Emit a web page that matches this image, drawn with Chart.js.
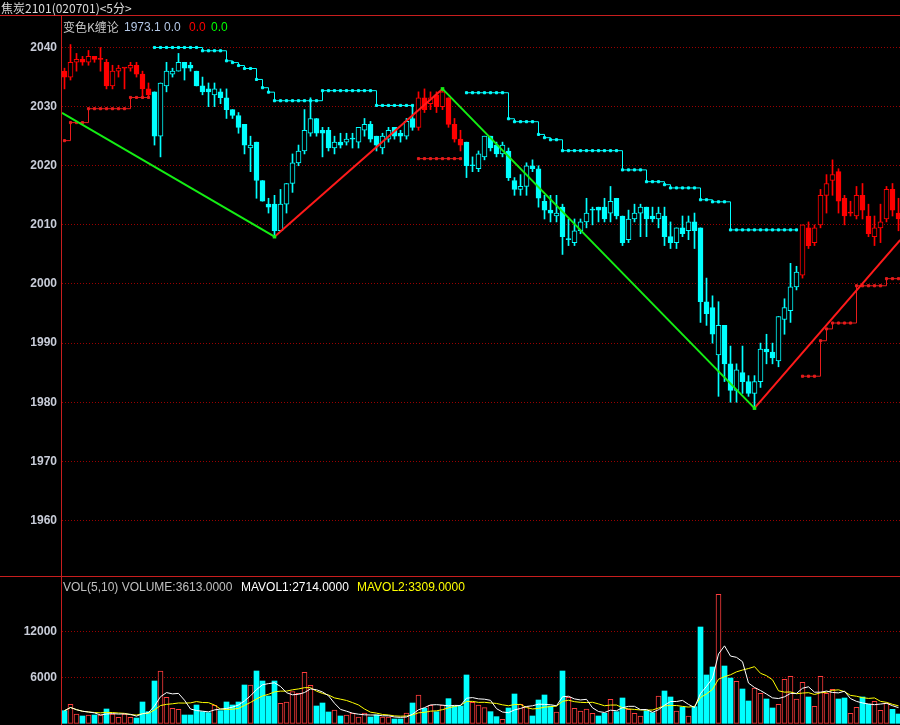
<!DOCTYPE html>
<html>
<head>
<meta charset="utf-8">
<title>焦炭2101 5分</title>
<script src="https://cdn.jsdelivr.net/npm/chart.js@4.4.1/dist/chart.umd.min.js"></script>
<style>
html, body { margin: 0; padding: 0; background: #000; }
#wrap { position: relative; width: 900px; height: 725px; overflow: hidden; background: #000;
        font-family: "Liberation Sans", Arial, sans-serif; font-size: 12px; }
.t { position: absolute; white-space: nowrap; line-height: 14px; }
.cjk { font-family: "Noto Sans CJK SC", sans-serif; }
.hl { position: absolute; left: 0; width: 900px; height: 1px; background: #c81e1e; }
#vl { position: absolute; left: 61px; top: 15px; width: 1px; height: 710px; background: #c81e1e; }
canvas { position: absolute; left: 0; }
</style>
</head>
<body>
<div id="wrap">
  <canvas id="price" width="900" height="560" style="top:16px;width:900px;height:560px"></canvas>
  <canvas id="vol" width="900" height="148" style="top:577px;width:900px;height:148px"></canvas>
  <div class="hl" style="top:15px"></div>
  <div class="hl" style="top:576px"></div>
  <div id="vl"></div>

  <div class="t cjk" style="left:1px;top:0;line-height:15px;color:#dcdcdc">焦炭2101(020701)&lt;5分&gt;</div>

  <div class="t cjk" style="left:63px;top:20px;color:#c8c8c8">变色K缠论</div>
  <div class="t" style="left:124px;top:20px;color:#b4c8e6">1973.1 0.0</div>
  <div class="t" style="left:189px;top:20px;color:#ff0000">0.0</div>
  <div class="t" style="left:211px;top:20px;color:#00ff00">0.0</div>

  <div class="t" style="left:63px;top:580px;color:#c0c0c0">VOL(5,10) VOLUME:3613.0000</div>
  <div class="t" style="left:241px;top:580px;color:#ffffff">MAVOL1:2714.0000</div>
  <div class="t" style="left:357px;top:580px;color:#ffff00">MAVOL2:3309.0000</div>
</div>

<script>
// 5 minute bars, oldest first
var opens = [
  2036, 2035, 2037.5, 2038, 2037.5, 2038.5, 2038, 2037.5, 2033.5, 2036,
  2036.5, 2036.5, 2037, 2035.5, 2033, 2032.5, 2025, 2033.5, 2035.5, 2036,
  2037.5, 2037, 2036, 2033.5, 2033, 2032, 2032.5, 2031.5, 2029.5, 2028.5,
  2027, 2023, 2024, 2017.5, 2013.5, 2013.5, 2009, 2013.5, 2017, 2020.5,
  2022.5, 2025.5, 2028, 2026, 2026, 2023, 2024, 2024, 2024.5, 2024,
  2026, 2027, 2025, 2023, 2024.5, 2026.5, 2025.5, 2025, 2028, 2026.5,
  2031.5, 2030.5, 2032, 2030, 2031.5, 2027, 2024.5, 2024, 2020, 2019.5,
  2021.5, 2025, 2023.5, 2022, 2022.5, 2017.5, 2016, 2016.5, 2020, 2019.5,
  2014, 2012.5, 2011.5, 2013, 2007.5, 2007, 2009, 2010.5, 2012.5, 2013,
  2013, 2012, 2014.5, 2011.5, 2007.5, 2011, 2012, 2013, 2011.5, 2011,
  2011.5, 2008, 2007, 2009.5, 2009, 2010.5, 2009.5, 1997, 1996, 1988,
  1993, 1986.5, 1982, 1985, 1983.5, 1981.5, 1983.5, 1989, 1988.5, 1987,
  1994, 1995.5, 1999.5, 2001.5, 2009.5, 2007, 2010, 2015, 2017.5, 2019,
  2014.5, 2012, 2011.5, 2015, 2011.5, 2008, 2009.5, 2011, 2016, 2012
];
var highs = [
  2036.5, 2040.5, 2039, 2038.5, 2039.5, 2038.5, 2040, 2038, 2037, 2037,
  2036.5, 2037.5, 2037.5, 2036, 2034, 2032.5, 2034, 2037.5, 2036.5, 2039,
  2037.5, 2037.5, 2036, 2035, 2034, 2034, 2033, 2033, 2029.5, 2029,
  2027, 2025, 2024, 2017.5, 2014.5, 2015, 2016, 2017, 2022, 2023.5,
  2029.5, 2031.5, 2028, 2026.5, 2026.5, 2025, 2025.5, 2025.5, 2025.5, 2026.5,
  2028, 2027.5, 2025, 2025.5, 2026.5, 2026.5, 2026, 2028, 2030, 2032.5,
  2033, 2032.5, 2032.5, 2033, 2031.5, 2028, 2026, 2024, 2021.5, 2022.5,
  2025, 2025, 2024, 2024, 2023, 2018, 2018.5, 2020.5, 2021, 2020,
  2015, 2015, 2015, 2013.5, 2011, 2011, 2011, 2014.5, 2013, 2013,
  2014.5, 2016.5, 2014.5, 2011.5, 2012.5, 2013.5, 2013.5, 2013, 2013, 2013,
  2013, 2010.5, 2009.5, 2011.5, 2011.5, 2012, 2009.5, 2001, 1998, 1997,
  1993, 1989.5, 1986.5, 1989.5, 1984.5, 1984.5, 1990, 1991.5, 1990, 1994.5,
  1997.5, 2003.5, 2003, 2010, 2010.5, 2010, 2016, 2018.5, 2021, 2019.5,
  2015, 2014, 2016.5, 2017, 2013.5, 2011.5, 2013.5, 2016.5, 2017, 2014.5
];
var lows = [
  2033, 2034.5, 2036, 2037, 2037, 2037.5, 2036, 2033, 2033, 2035,
  2033, 2036, 2035, 2031.5, 2031.5, 2023.5, 2021.5, 2032.5, 2035, 2036,
  2034.5, 2036, 2033.5, 2032, 2030, 2030, 2030.5, 2028, 2028, 2025.5,
  2022, 2019, 2014.5, 2014, 2012, 2008, 2009, 2012, 2015.5, 2020,
  2022, 2025, 2025, 2021.5, 2022.5, 2022, 2023, 2023.5, 2023, 2023,
  2025, 2024, 2022.5, 2022, 2024, 2024.5, 2024, 2024.5, 2026, 2026,
  2029, 2029.5, 2029, 2029.5, 2026.5, 2024, 2022.5, 2018, 2019, 2019,
  2021, 2022.5, 2021.5, 2021.5, 2017.5, 2015, 2015, 2015, 2019, 2013,
  2011, 2010.5, 2010.5, 2005, 2006.5, 2006.5, 2008.5, 2009.5, 2010, 2010.5,
  2010.5, 2010.5, 2011, 2006.5, 2007, 2010.5, 2008, 2008, 2010.5, 2009.5,
  2006.5, 2006, 2006, 2008, 2007.5, 2006, 1993.5, 1993, 1990, 1981,
  1983.5, 1980, 1980, 1981.5, 1981, 1979, 1982.5, 1986.5, 1986.5, 1986,
  1991.5, 1993.5, 1999, 2001, 2006, 2006.5, 2009.5, 2012, 2015, 2012,
  2010, 2011.5, 2011, 2011, 2008, 2006.5, 2007, 2010.5, 2011.5, 2009
];
var closes = [
  2035, 2037.5, 2038, 2037.5, 2038.5, 2038, 2038, 2033.5, 2036, 2036.5,
  2036.5, 2037, 2035.5, 2033, 2032, 2025, 2034, 2036, 2036, 2037.5,
  2036.5, 2036.5, 2033.5, 2032.5, 2032.5, 2033, 2031.5, 2029.5, 2028.5, 2026.5,
  2023.5, 2023.5, 2017.5, 2014, 2013, 2009, 2013.5, 2017, 2020.5, 2022.5,
  2026, 2028, 2025.5, 2025.5, 2023, 2024, 2023.5, 2024.5, 2024.5, 2026.5,
  2027, 2024.5, 2023.5, 2025, 2026, 2025, 2025, 2027.5, 2026.5, 2031.5,
  2029.5, 2031.5, 2030, 2032.5, 2027, 2024.5, 2023.5, 2020, 2020, 2022,
  2025, 2023, 2022, 2023.5, 2018, 2016, 2016.5, 2020, 2019.5, 2014.5,
  2012.5, 2012, 2012, 2008, 2007.5, 2009, 2010.5, 2012, 2012.5, 2012.5,
  2011, 2014, 2011.5, 2007, 2011, 2012, 2013, 2011, 2011, 2012,
  2008, 2007, 2009.5, 2008.5, 2010.5, 2009, 1997, 1995, 1991.5, 1993,
  1986.5, 1982, 1985.5, 1983.5, 1981.5, 1983.5, 1989, 1988.5, 1987.5, 1994.5,
  1996, 1999.5, 2002, 2010, 2006.5, 2009.5, 2015, 2017, 2018.5, 2014,
  2011.5, 2012, 2015, 2012.5, 2008.5, 2009.5, 2010.5, 2016, 2012.5, 2011
];
var volumes = [
  1652, 2478, 1217, 957, 1087, 1087, 1087, 1870, 1217, 783,
  1217, 783, 696, 2783, 1522, 5522, 6826, 3391, 1956, 1826,
  1087, 1087, 2391, 1522, 1391, 2348, 1652, 2783, 2391, 2783,
  5000, 5000, 6826, 5522, 3565, 5522, 2609, 2783, 4130, 3913,
  6652, 4957, 2261, 2652, 1478, 1739, 957, 1087, 1348, 826,
  1348, 826, 1087, 826, 826, 565, 565, 1348, 2652, 3696,
  1957, 2348, 1522, 2348, 3217, 2261, 2261, 6305, 2739, 2391,
  2043, 1522, 870, 522, 2000, 3826, 2478, 2174, 957, 3043,
  3696, 2261, 1478, 6826, 3391, 1956, 1609, 1870, 1304, 957,
  1304, 3130, 1522, 3304, 1826, 1304, 957, 1652, 1391, 3565,
  4217, 3435, 1609, 2130, 957, 2174, 12565, 6305, 7348, 16826,
  7478, 5913, 5478, 4478, 2913, 4609, 3913, 3174, 2000, 2478,
  5739, 6130, 3174, 5348, 3435, 2217, 6130, 3913, 4435, 3174,
  3304, 1304, 2087, 3435, 2478, 2870, 1696, 2609, 1826, 1217
];
// trend state of the 变色K indicator: 1 = up (red), -1 = down (cyan)
var trend = [
  1, 1, 1, 1, 1, 1, 1, 1, 1, 1, 1, 1, 1, 1, 1,
  -1, -1, -1, -1, -1, -1, -1, -1, -1, -1, -1, -1, -1, -1, -1, -1, -1, -1, -1, -1, -1, -1,
  -1, -1, -1, -1, -1, -1, -1, -1, -1, -1, -1, -1, -1, -1, -1, -1, -1, -1, -1, -1, -1, -1,
  1, 1, 1, 1, 1, 1, 1, 1,
  -1, -1, -1, -1, -1, -1, -1, -1, -1, -1, -1, -1, -1, -1, -1, -1, -1, -1, -1, -1, -1, -1, -1, -1, -1, -1, -1, -1,
  -1, -1, -1, -1, -1, -1, -1, -1, -1, -1, -1, -1, -1, -1, -1, -1, -1, -1, -1, -1, -1, -1, -1, -1, -1, -1, -1, -1,
  1, 1, 1, 1, 1, 1, 1, 1, 1, 1, 1, 1, 1, 1, 1, 1, 1
];
// resistance (cyan) and support (red) step lines
var upperLine = [
  null, null, null, null, null, null, null, null, null, null, null, null, null, null, null,
  2040, 2040, 2040, 2040, 2040, 2040, 2040, 2040,
  2039.45, 2039.45, 2039.45, 2039.45,
  2037.75, 2037.45, 2036.95, 2036.45, 2036.45, 2034.6, 2033.2, 2032.45,
  2031, 2031, 2031, 2031, 2031, 2031, 2031, 2031,
  2032.7, 2032.7, 2032.7, 2032.7, 2032.7, 2032.7, 2032.7, 2032.7, 2032.7,
  2030.2, 2030.2, 2030.2, 2030.2, 2030.2, 2030.2, 2030.2,
  null, null, null, null, null, null, null, null,
  2032.35, 2032.35, 2032.35, 2032.35, 2032.35, 2032.35, 2032.35,
  2027.95, 2027.45, 2027.45, 2027.45, 2027.45,
  2025.3, 2024.75, 2024.4, 2024.4,
  2022.55, 2022.55, 2022.55, 2022.55, 2022.55, 2022.55, 2022.55, 2022.55, 2022.55, 2022.55,
  2019.3, 2019.3, 2019.3, 2019.3,
  2017.3, 2017.3, 2017.3, 2016.8,
  2016.25, 2016.25, 2016.25, 2016.25, 2016.25,
  2014.25, 2014.25, 2013.9, 2013.9, 2013.9,
  2009.15, 2009.15, 2009.15, 2009.15, 2009.15, 2009.15, 2009.15, 2009.15, 2009.15, 2009.15, 2009.15, 2009.15,
  null, null, null, null, null, null, null, null, null, null, null, null, null, null, null, null, null
];
var lowerLine = [
  2024.25, 2027.3, 2027.3, 2027.3,
  2029.65, 2029.65, 2029.65, 2029.65, 2029.65, 2029.65, 2029.65,
  2031.55, 2031.55, 2031.55, 2031.55,
  null, null, null, null, null, null, null, null, null, null, null, null, null, null, null, null, null, null, null, null, null, null,
  null, null, null, null, null, null, null, null, null, null, null, null, null, null, null, null, null, null, null, null, null, null,
  2021.2, 2021.2, 2021.2, 2021.2, 2021.2, 2021.2, 2021.2, 2021.2,
  null, null, null, null, null, null, null, null, null, null, null, null, null, null, null, null, null, null, null, null, null, null, null, null, null, null, null, null,
  null, null, null, null, null, null, null, null, null, null, null, null, null, null, null, null, null, null, null, null, null, null, null, null, null, null, null, null,
  1984.4, 1984.4, 1984.4, 1990.4, 1992.4,
  1993.4, 1993.4, 1993.4, 1993.4,
  1999.7, 1999.7, 1999.7, 1999.7, 1999.7,
  2000.9, 2000.9, 2000.9
];
// zigzag (缠论 strokes): bar index and price of each turning point
var zzIndex = [-0.42, 35, 63, 115, 139.3];
var zzPrice = [2028.95, 2008, 2033, 1979, 2007.45];

var priceTicks = [1960, 1970, 1980, 1990, 2000, 2010, 2020, 2030, 2040];
var volTicks = [6000, 12000];

var RED = '#ff0000', CYAN = '#00ffff', GRID = '#9a0000';
var ZZ_RED = '#ff1a1a', ZZ_GREEN = '#14ee14';

function movingAvg(arr, n) {
  return arr.map(function (_, i) {
    var s = Math.max(0, i - n + 1), sum = 0;
    for (var k = s; k <= i; k++) sum += arr[k];
    return sum / (i - s + 1);
  });
}

var xScale = { type: 'linear', min: -0.4167, max: 139.25, display: false, offset: false };
var labelFont = { family: 'Liberation Sans', size: 12, weight: 'bold' };

function yAxis(min, max, ticks) {
  return {
    position: 'left', min: min, max: max,
    afterFit: function (s) { s.width = 62; s.paddingTop = 0; s.paddingBottom = 0; },
    afterBuildTicks: function (s) { s.ticks = ticks.map(function (v) { return { value: v }; }); },
    ticks: { color: '#c8ccd8', font: labelFont, padding: 5, callback: function (v) { return String(v); } },
    grid: { color: GRID, lineWidth: 1, drawTicks: false },
    border: { display: false, dash: [1, 2] }
  };
}

var idx = opens.map(function (_, i) { return i; });
var candleColor = trend.map(function (t) { return t > 0 ? RED : CYAN; });
var bodyFill = idx.map(function (i) { return closes[i] > opens[i] ? '#000000' : candleColor[i]; });

new Chart(document.getElementById('price'), {
  type: 'bar',
  data: {
    datasets: [
      {
        type: 'line', order: 0,
        data: zzIndex.map(function (x, k) { return { x: x, y: zzPrice[k] }; }),
        borderWidth: 2, borderColor: ZZ_GREEN, tension: 0,
        segment: { borderColor: function (c) { return c.p1.parsed.y > c.p0.parsed.y ? ZZ_RED : ZZ_GREEN; } },
        pointStyle: 'rect', pointRadius: [0, 2.5, 2.5, 2.5, 0],
        pointBackgroundColor: ZZ_GREEN, pointBorderWidth: 0
      },
      {
        type: 'line', order: 1, stepped: 'before', spanGaps: false,
        data: idx.map(function (i) { return { x: i, y: upperLine[i] }; }),
        borderColor: CYAN, borderWidth: 1,
        pointStyle: 'rect', pointRadius: 1.5, pointBackgroundColor: CYAN,
        pointBorderColor: CYAN, pointBorderWidth: 1
      },
      {
        type: 'line', order: 1, stepped: 'before', spanGaps: false,
        data: idx.map(function (i) { return { x: i, y: lowerLine[i] }; }),
        borderColor: '#e81c1c', borderWidth: 1,
        pointStyle: 'rect', pointRadius: 1.5, pointBackgroundColor: '#e81c1c',
        pointBorderColor: '#e81c1c', pointBorderWidth: 1
      },
      {
        type: 'bar', order: 2, grouped: false, barThickness: 5, minBarLength: 1,
        data: idx.map(function (i) { return { x: i, y: [opens[i], closes[i]] }; }),
        backgroundColor: bodyFill, borderColor: candleColor, borderWidth: 1, borderSkipped: false
      },
      {
        type: 'bar', order: 3, grouped: false, barThickness: 1,
        data: idx.map(function (i) { return { x: i, y: [lows[i], highs[i]] }; }),
        backgroundColor: candleColor, borderWidth: 0
      }
    ]
  },
  options: {
    responsive: false, animation: false, events: [],
    layout: { padding: 0, autoPadding: false },
    plugins: { legend: { display: false }, tooltip: { enabled: false } },
    scales: { x: xScale, y: yAxis(1950.61, 2045.33, priceTicks) }
  }
});

var ma5 = movingAvg(volumes, 5);
var ma10 = movingAvg(volumes, 10);
var volUp = idx.map(function (i) { return closes[i] >= opens[i]; });

new Chart(document.getElementById('vol'), {
  type: 'bar',
  data: {
    datasets: [
      {
        type: 'line', order: 0, data: idx.map(function (i) { return { x: i, y: ma5[i] }; }),
        borderColor: '#ffffff', borderWidth: 1, pointRadius: 0, tension: 0
      },
      {
        type: 'line', order: 1, data: idx.map(function (i) { return { x: i, y: ma10[i] }; }),
        borderColor: '#ffff00', borderWidth: 1, pointRadius: 0, tension: 0
      },
      {
        type: 'bar', order: 2, grouped: false, barThickness: 5,
        data: idx.map(function (i) { return { x: i, y: volumes[i] }; }),
        backgroundColor: volUp.map(function (u) { return u ? '#000000' : CYAN; }),
        borderColor: volUp.map(function (u) { return u ? '#ff3c3c' : CYAN; }),
        borderWidth: volUp.map(function (u) { return u ? 1 : 0; }),
        borderSkipped: false
      }
    ]
  },
  options: {
    responsive: false, animation: false, events: [],
    layout: { padding: 0, autoPadding: false },
    plugins: { legend: { display: false }, tooltip: { enabled: false } },
    scales: { x: xScale, y: yAxis(-218, 19087, volTicks) }
  }
});
</script>
</body>
</html>
